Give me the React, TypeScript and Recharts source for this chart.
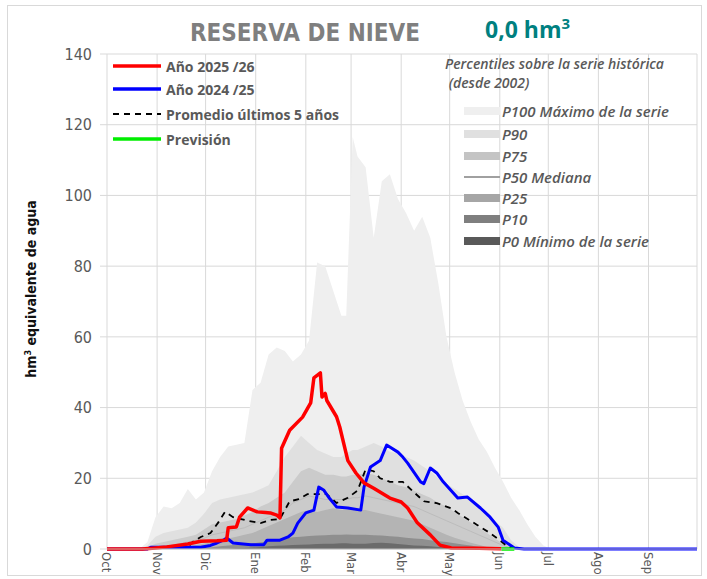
import { ComposedChart, Area, Line, XAxis, YAxis, CartesianGrid } from "recharts"

const NARROW = "'Liberation Sans Narrow', 'DejaVu Sans Condensed', sans-serif"
const SANS = "'Open Sans', 'Noto Sans', sans-serif"

// x axis = days since 1 Oct
const monthDays = [0, 31, 61, 92, 123, 151, 182, 212, 243, 273, 304, 335, 365]
const monthLabels = ["Oct", "Nov", "Dic", "Ene", "Feb", "Mar", "Abr", "May", "Jun", "Jul", "Ago", "Sep", ""]
const yTicks = [0, 20, 40, 60, 80, 100, 120, 140]

// percentile bands (historical series since 2002)
const pctDays = [0, 20, 25, 30, 35, 40, 45, 50, 55, 60, 65, 70, 75, 80, 85, 90, 95, 100, 105, 110, 115, 120, 125, 130, 135, 140, 145, 148, 152, 155, 160, 165, 170, 175, 180, 185, 190, 195, 200, 205, 210, 215, 220, 225, 230, 235, 240, 245, 250, 255, 260, 265, 270, 275, 365]
const p100 = [0, 0, 2, 9, 12, 11.5, 13, 17, 14, 16, 22, 26, 29, 29.5, 30, 45, 47, 55, 57, 56, 53, 55, 59, 81, 80, 73, 66, 66, 116.5, 111, 108, 88, 104, 106, 99, 95, 90, 94, 88, 75, 60, 50, 42, 36, 31, 27.5, 23, 19, 14.5, 11, 7, 3.5, 1, 0, 0]
const p90 = [0, 0, 1, 3.5, 4.5, 5, 5.5, 6, 7.5, 10, 13, 14, 14.5, 15, 15.5, 16, 17, 18, 22, 26, 29, 32, 30, 28, 27, 26, 26, 27, 28, 28, 29, 30, 29, 27.5, 27, 26, 25, 23.5, 22, 20, 18.5, 17, 15.5, 14, 12, 10, 8, 6, 2.5, 0.5, 0, 0, 0, 0, 0]
const p75 = [0, 0, 0.5, 1.5, 2, 2.5, 3, 3.5, 4, 5.5, 7, 7.5, 8, 8.5, 9.5, 10.5, 12, 13, 14.5, 16, 19, 22, 23, 22, 21, 21, 20.5, 20.5, 21, 21, 21.5, 21, 20, 19, 18, 17.5, 16.5, 15.5, 14.5, 13, 12, 10.5, 9, 7.5, 6, 4.5, 3, 1.5, 0.5, 0, 0, 0, 0, 0, 0]
const p50 = [0, 0, 0, 0.5, 0.8, 1, 1.5, 2, 2.5, 3, 4, 4.5, 5, 5.5, 6, 7, 8, 9, 10, 11, 13, 14, 15, 14.5, 14, 14, 14, 14, 14.5, 14.5, 15, 14.5, 14, 13.5, 13, 12.5, 12, 11, 10, 9, 8, 7, 6, 5, 4, 3, 2, 1, 0.3, 0, 0, 0, 0, 0, 0]
const p25 = [0, 0, 0, 0, 0.2, 0.3, 0.5, 0.8, 1.1, 1.5, 2, 2.5, 3, 3.5, 4, 4.5, 5.5, 6.5, 7.5, 8.5, 9.5, 10.5, 11, 10.5, 11, 11.5, 11, 11, 11.5, 11, 11, 10.5, 10, 9.5, 9, 8.5, 8, 7, 6, 5, 4, 3.2, 2.5, 1.8, 1.2, 0.6, 0.2, 0, 0, 0, 0, 0, 0, 0, 0]
const p10 = [0, 0, 0, 0, 0, 0, 0, 0, 0.1, 0.3, 0.5, 0.8, 1, 1.2, 1.4, 1.6, 1.9, 2.2, 2.6, 3, 3.3, 3.5, 3.7, 3.8, 3.9, 4, 4, 4.1, 4, 4, 4, 3.9, 3.8, 3.6, 3.5, 3.2, 3, 2.8, 2.5, 2.2, 2, 1.6, 1.3, 1, 0.6, 0.4, 0.2, 0, 0, 0, 0, 0, 0, 0, 0]
const p0 = [0, 0, 0, 0, 0, 0, 0, 0, 0, 0, 0, 0, 0, 0.2, 0.3, 0.4, 0.6, 0.8, 0.9, 1, 1.1, 1.2, 1.3, 1.4, 1.5, 1.5, 1.6, 1.6, 1.5, 1.5, 1.5, 1.7, 1.8, 1.6, 1.4, 1.2, 1, 0.9, 0.8, 0.6, 0.5, 0.4, 0.3, 0.2, 0.1, 0, 0, 0, 0, 0, 0, 0, 0, 0, 0]

// Año 2025/26
const redDays = [0, 22, 30, 37, 50, 58, 68, 74, 75, 80, 82, 87, 93, 98, 101, 105, 107, 108, 113, 121, 126, 128, 132, 133, 135, 136, 142, 144, 149, 154, 159, 165, 175, 182, 186, 192, 200, 206, 213, 230, 244]
const redVals = [0, 0, 0.3, 0.6, 1.4, 2.2, 2.3, 2.5, 6, 6.2, 9, 11.6, 10.5, 10.3, 10.2, 9.6, 8.8, 28.5, 33.6, 37.3, 41.3, 48.4, 49.8, 43, 44, 42, 37.4, 34.5, 25, 21.5, 18.7, 17.2, 14.4, 13.3, 11.6, 7.4, 4, 1.1, 0.3, 0.2, 0.1]

// Año 2024/25
const blueDays = [0, 25, 27, 58, 64, 68, 72, 74, 78, 89, 97, 99, 107, 112, 115, 118, 123, 128, 131, 134, 137, 142, 149, 157, 159, 163, 169, 173, 180, 183, 186, 194, 196, 200, 204, 208, 217, 223, 231, 237, 242, 245, 252, 258, 365]
const blueVals = [0, 0, 0.5, 0.5, 1, 1.7, 2.5, 3.1, 1.7, 1.2, 1.2, 2.5, 2.5, 3.4, 4.5, 7.3, 10.2, 11, 17.5, 16.7, 14.7, 11.9, 11.6, 11, 17.5, 23.2, 25, 29.4, 27.4, 26, 24.3, 19, 18.5, 22.9, 21.5, 19, 14.4, 14.7, 11.6, 9, 6.2, 2.5, 0.3, 0, 0]

// Promedio últimos 5 años
const avgDays = [51, 53, 58, 64, 69, 73, 78, 87, 95, 101, 107, 113, 118, 124, 130, 136, 142, 149, 155, 160, 165, 169, 175, 183, 190, 196, 204, 213, 217, 229, 237, 243, 248, 251]
const avgVals = [1, 2, 3.4, 4.5, 7.6, 10.5, 9, 8, 7.3, 8.2, 8.5, 13.5, 14, 15.5, 15.5, 15.5, 13, 14.5, 16.5, 22.5, 22, 20, 19, 19, 16, 13.5, 13, 11.5, 10.2, 6.8, 4.5, 2.5, 0.6, 0]

// Previsión
const fcDays = [244, 252]
const fcVals = [0, 0]

const pctData = pctDays.map((day, i) => ({
  day, p100: p100[i], p90: p90[i], p75: p75[i], p50: p50[i], p25: p25[i], p10: p10[i], p0: p0[i],
}))
const toPoints = (days: number[], vals: number[]) => days.map((day, i) => ({ day, v: vals[i] }))

const bands = [
  { key: "p100", fill: "#efefef" },
  { key: "p90", fill: "#e0e0e0" },
  { key: "p75", fill: "#cbcbcb" },
  { key: "p25", fill: "#b4b4b4" },
  { key: "p10", fill: "#8f8f8f" },
  { key: "p0", fill: "#6b6b6b" },
]

const leftLegend = [
  { label: "Año 2025 /26", color: "#ff0000", dash: "" },
  { label: "Año 2024 /25", color: "#0000ff", dash: "" },
  { label: "Promedio últimos 5 años", color: "#000000", dash: "6 5" },
  { label: "Previsión", color: "#00ee00", dash: "" },
]
const leftLegendY = [66, 89, 114, 139]

const rightLegend = [
  { label: "P100 Máximo de la serie", color: "#efefef", line: false },
  { label: "P90", color: "#e0e0e0", line: false },
  { label: "P75", color: "#c4c4c4", line: false },
  { label: "P50 Mediana", color: "#a0a0a0", line: true },
  { label: "P25", color: "#a6a6a6", line: false },
  { label: "P10", color: "#7f7f7f", line: false },
  { label: "P0 Mínimo de la serie", color: "#595959", line: false },
]
const rightLegendY = [111, 134, 156, 177, 198, 219, 241]

function MonthTick(props: any) {
  const { x, y, payload } = props
  const i = monthDays.indexOf(payload.value)
  return (
    <g transform={`translate(${x},${y + 1}) rotate(90)`}>
      <text x={0} y={0} dy="0.35em" textAnchor="start" fontSize={13} fill="#595959" fontFamily={NARROW}>
        {monthLabels[i]}
      </text>
    </g>
  )
}

export default function App() {
  return (
    <div style={{ position: "absolute", left: 0, top: 0, width: 707, height: 579, background: "#fff", overflow: "hidden" }}>
      <div style={{ position: "absolute", left: 7, top: 5, width: 693, height: 569, border: "1px solid #d9d9d9" }} />
      <ComposedChart width={707} height={579} data={pctData} margin={{ top: 54, right: 10, bottom: 5, left: 37 }}>
        <CartesianGrid stroke="#d9d9d9" />
        <XAxis
          dataKey="day"
          type="number"
          domain={[0, 365]}
          ticks={monthDays}
          interval={0}
          height={25}
          tickSize={0}
          tickMargin={2}
          axisLine={{ stroke: "#bfbfbf" }}
          tick={<MonthTick />}
        />
        <YAxis
          domain={[0, 140]}
          ticks={yTicks}
          width={70}
          axisLine={false}
          tickSize={7}
          tickMargin={8}
          tickLine={{ stroke: "#d9d9d9" }}
          tick={{ fontSize: 16, fill: "#595959", fontFamily: NARROW }}
        />
        {bands.map((b) => (
          <Area
            key={b.key}
            dataKey={b.key}
            type="linear"
            stroke="none"
            fill={b.fill}
            fillOpacity={1}
            dot={false}
            activeDot={false}
            isAnimationActive={false}
          />
        ))}
        <Line dataKey="p50" type="linear" stroke="#bcbcbc" strokeWidth={1} dot={false} activeDot={false} isAnimationActive={false} />
        <Line data={toPoints(avgDays, avgVals)} dataKey="v" type="linear" stroke="#000" strokeWidth={1.8} strokeDasharray="6 5" dot={false} activeDot={false} isAnimationActive={false} />
        <Line data={toPoints(blueDays, blueVals)} dataKey="v" type="linear" stroke="#0000ff" strokeWidth={3} strokeLinejoin="round" dot={false} activeDot={false} isAnimationActive={false} />
        <Line data={toPoints(redDays, redVals)} dataKey="v" type="linear" stroke="#ff0000" strokeWidth={3.5} strokeLinejoin="round" dot={false} activeDot={false} isAnimationActive={false} />
        <Line data={toPoints(fcDays, fcVals)} dataKey="v" type="linear" stroke="#00ee00" strokeWidth={3.5} dot={false} activeDot={false} isAnimationActive={false} />
      </ComposedChart>

      <div style={{ position: "absolute", left: 155, top: 17, width: 300, textAlign: "center", fontFamily: NARROW, fontWeight: 700, fontSize: 24, lineHeight: "32px", color: "#7f7f7f" }}>
        RESERVA DE NIEVE
      </div>
      <div style={{ position: "absolute", left: 485, top: 7, fontFamily: SANS, fontWeight: 700, fontSize: 23, lineHeight: "32px", color: "#008080", whiteSpace: "nowrap" }}>
        0,0 hm<sup style={{ fontSize: 15 }}>3</sup>
      </div>
      <div style={{ position: "absolute", left: 31, top: 289, transform: "translate(-50%,-50%) rotate(-90deg)", whiteSpace: "nowrap", fontFamily: NARROW, fontWeight: 700, fontSize: 14, color: "#111" }}>
        hm<sup style={{ fontSize: 9 }}>3</sup> equivalente de agua
      </div>

      {leftLegend.map((it, i) => (
        <div key={it.label} style={{ position: "absolute", left: 113, top: leftLegendY[i] - 10, height: 20, display: "flex", alignItems: "center", whiteSpace: "nowrap" }}>
          <svg width={48} height={6} style={{ marginRight: 5 }}>
            <line x1={0} y1={3} x2={48} y2={3} stroke={it.color} strokeWidth={it.dash ? 1.8 : 3.5} strokeDasharray={it.dash || undefined} />
          </svg>
          <span style={{ fontFamily: SANS, fontWeight: 700, fontSize: 14, color: "#595959" }}>{it.label}</span>
        </div>
      ))}

      <div style={{ position: "absolute", left: 445, top: 54, fontFamily: SANS, fontStyle: "italic", fontWeight: 600, fontSize: 14, lineHeight: "19px", color: "#595959", whiteSpace: "nowrap" }}>
        Percentiles sobre la serie histórica
        <br />
        &nbsp;(desde 2002)
      </div>
      {rightLegend.map((it, i) => (
        <div key={it.label} style={{ position: "absolute", left: 464, top: rightLegendY[i] - 10, height: 20, display: "flex", alignItems: "center", whiteSpace: "nowrap" }}>
          <svg width={36} height={8} style={{ marginRight: 2 }}>
            {it.line ? (
              <line x1={0} y1={4} x2={36} y2={4} stroke={it.color} strokeWidth={2} />
            ) : (
              <rect x={0} y={0} width={36} height={8} fill={it.color} />
            )}
          </svg>
          <span style={{ fontFamily: SANS, fontStyle: "italic", fontWeight: 600, fontSize: 15, color: "#595959" }}>{it.label}</span>
        </div>
      ))}
    </div>
  )
}
